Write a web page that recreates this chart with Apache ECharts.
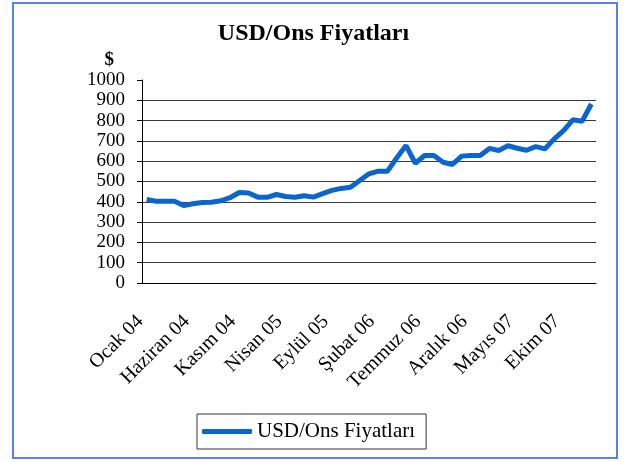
<!DOCTYPE html>
<html>
<head>
<meta charset="utf-8">
<script src="https://cdn.jsdelivr.net/npm/echarts@6/dist/echarts.min.js"></script>
<style>
html, body { margin: 0; padding: 0; background: #fff; }
#chart { width: 627px; height: 462px; }
</style>
</head>
<body>
<div id="chart"></div>
<script>
// aylar: Ocak 04 - Ocak 08
var months = ['Ocak', 'Şubat', 'Mart', 'Nisan', 'Mayıs', 'Haziran', 'Temmuz', 'Ağustos', 'Eylül', 'Ekim', 'Kasım', 'Aralık'];
var categories = [];
for (var y = 4; y <= 8; y++) {
    for (var m = 0; m < 12; m++) {
        if (y === 8 && m > 0) break;
        categories.push(months[m] + ' 0' + y);
    }
}
var prices = [
    412, 403, 403, 403, 382, 390, 397, 398, 405, 420, 446, 443,
    423, 422, 436, 426, 422, 430, 423, 440, 456, 466, 472, 505,
    538, 551, 551, 617, 677, 590, 628, 628, 595, 584, 625, 628,
    628, 663, 653, 676, 664, 654, 672, 661, 710, 751, 804, 797,
    882
];
var yTicks = [0, 100, 200, 300, 400, 500, 600, 700, 800, 900, 1000];

var font = "'Liberation Serif', 'Times New Roman', serif";
var chart = echarts.init(document.getElementById('chart'));

// son cizgi (1000) gorunmesin
var gridColors = yTicks.map(function (v) { return v === 1000 ? 'rgba(0,0,0,0)' : '#3a3a3a'; });

chart.setOption({
    animation: false,
    title: {
        text: 'USD/Ons Fiyatları',
        left: 'center',
        top: 17,
        textStyle: { fontFamily: font, fontWeight: 'bold', fontSize: 24, color: '#000' }
    },
    graphic: [{
        type: 'rect',
        shape: { x: 13, y: 3, width: 604, height: 455 },
        style: { fill: 'none', stroke: '#5a82e6', lineWidth: 2 }
    }],
    legend: {
        data: ['USD/Ons Fiyatları'],
        left: 197,
        top: 414,
        padding: [7, 11, 7, 5],
        itemWidth: 50,
        itemHeight: 5,
        itemGap: 0,
        borderColor: '#333',
        borderWidth: 1,
        borderRadius: 0,
        icon: 'roundRect',
        textStyle: { fontFamily: font, fontSize: 21, color: '#000' }
    },
    grid: { left: 142, right: 31, top: 80, bottom: 179 },
    xAxis: {
        type: 'category',
        data: categories,
        boundaryGap: true,
        axisLine: { lineStyle: { color: '#000', width: 1 } },
        axisTick: { interval: 0, length: 5, lineStyle: { color: '#000' } },
        axisLabel: {
            interval: 4,
            rotate: 45,
            margin: 29,
            padding: [0, 9, 0, 0],
            fontFamily: font,
            fontSize: 20,
            color: '#000'
        },
        splitLine: { show: false }
    },
    yAxis: {
        type: 'value',
        min: 0,
        max: 1000,
        interval: 100,
        name: '$',
        nameLocation: 'end',
        nameGap: 10,
        nameTextStyle: { fontFamily: font, fontWeight: 'bold', fontSize: 19, color: '#000', align: 'right', padding: [0, 28, 0, 0] },
        axisLine: { show: true, lineStyle: { color: '#000', width: 1 } },
        axisTick: { show: true, length: 5, lineStyle: { color: '#000' } },
        axisLabel: {
            fontFamily: font, fontSize: 19, color: '#000', margin: 17,
            formatter: function (v) { return String(v); }
        },
        splitLine: { show: true, lineStyle: { color: gridColors, width: 1 } }
    },
    series: [{
        name: 'USD/Ons Fiyatları',
        type: 'line',
        data: prices,
        symbol: 'none',
        lineStyle: { color: '#0a66cc', width: 5 },
        itemStyle: { color: '#0a66cc' }
    }]
});
</script>
</body>
</html>
